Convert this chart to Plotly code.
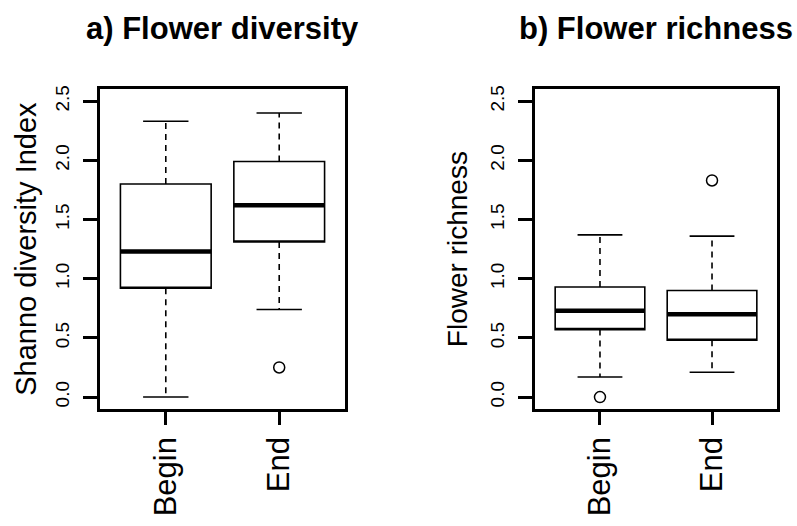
import plotly.graph_objects as go

# Group labels
groups = ["Begin", "End"]
group_pos = [1, 2]

# Five-number summaries per group: a) Shannon diversity
div_lower = [0.00, 0.74]
div_q1 = [0.92, 1.31]
div_median = [1.23, 1.62]
div_q3 = [1.80, 1.99]
div_upper = [2.33, 2.40]
div_outliers = [[], [0.25]]

# b) Flower richness
rich_lower = [0.17, 0.21]
rich_q1 = [0.57, 0.48]
rich_median = [0.73, 0.70]
rich_q3 = [0.93, 0.90]
rich_upper = [1.37, 1.36]
rich_outliers = [[0.00], [1.83]]

y_ticks = [0.0, 0.5, 1.0, 1.5, 2.0, 2.5]

FONT = "Liberation Sans, Arial, sans-serif"
BOX_W = 0.8
CAP_W = 0.4

fig = go.Figure()


def add_panel(fig, xa, ya, lower, q1, med, q3, upper, outliers):
    # box bodies
    fig.add_trace(go.Box(
        x=group_pos, q1=q1, median=q1, q3=q3, lowerfence=q1, upperfence=q3,
        width=BOX_W, fillcolor="white", line=dict(color="black", width=1.6),
        whiskerwidth=0, xaxis=xa, yaxis=ya, showlegend=False, hoverinfo="skip",
    ))
    for i, xp in enumerate(group_pos):
        # dashed whiskers
        fig.add_trace(go.Scatter(
            x=[xp, xp, None, xp, xp], y=[q3[i], upper[i], None, q1[i], lower[i]],
            mode="lines", line=dict(color="black", width=1.6, dash="6px,5px"),
            xaxis=xa, yaxis=ya, showlegend=False, hoverinfo="skip",
        ))
        # whisker caps
        fig.add_trace(go.Scatter(
            x=[xp - CAP_W / 2, xp + CAP_W / 2, None, xp - CAP_W / 2, xp + CAP_W / 2],
            y=[upper[i], upper[i], None, lower[i], lower[i]],
            mode="lines", line=dict(color="black", width=1.6),
            xaxis=xa, yaxis=ya, showlegend=False, hoverinfo="skip",
        ))
        # thick median
        fig.add_trace(go.Scatter(
            x=[xp - BOX_W / 2, xp + BOX_W / 2], y=[med[i], med[i]],
            mode="lines", line=dict(color="black", width=4.5),
            xaxis=xa, yaxis=ya, showlegend=False, hoverinfo="skip",
        ))
        # outliers
        if outliers[i]:
            fig.add_trace(go.Scatter(
                x=[xp] * len(outliers[i]), y=outliers[i], mode="markers",
                marker=dict(symbol="circle-open", size=11, color="black",
                            line=dict(width=1.5, color="black")),
                xaxis=xa, yaxis=ya, showlegend=False, hoverinfo="skip",
            ))


add_panel(fig, "x", "y", div_lower, div_q1, div_median, div_q3, div_upper, div_outliers)
add_panel(fig, "x2", "y2", rich_lower, rich_q1, rich_median, rich_q3, rich_upper, rich_outliers)

W, H = 797, 526
y_dom = [(H - 408) / H, (H - 86) / H]

xaxis_common = dict(
    range=[0.42, 2.58], tickvals=group_pos, ticktext=groups, tickangle=-90,
    ticks="outside", ticklen=13, tickwidth=2.5, tickcolor="black",
    showline=True, mirror=True, linewidth=2.5, linecolor="black",
    showgrid=False, zeroline=False,
    tickfont=dict(family=FONT, size=31, color="black"),
)
yaxis_common = dict(
    range=[-0.1, 2.6], tickvals=y_ticks, ticktext=[f"{v:.1f}" for v in y_ticks],
    tickangle=-90, ticks="outside", ticklen=14, tickwidth=2.5, tickcolor="black",
    showline=True, mirror=True, linewidth=2.5, linecolor="black",
    showgrid=False, zeroline=False, domain=y_dom, ticklabelstandoff=7,
    tickfont=dict(family=FONT, size=19, color="black"),
)

fig.update_layout(
    width=W, height=H, margin=dict(l=0, r=0, t=0, b=0),
    paper_bgcolor="white", plot_bgcolor="white",
    xaxis=dict(xaxis_common, domain=[100 / W, 345 / W], anchor="y"),
    xaxis2=dict(xaxis_common, domain=[535 / W, 777 / W], anchor="y2"),
    yaxis=dict(yaxis_common, anchor="x",
               title=dict(text="Shanno diversity Index", standoff=7,
                          font=dict(family=FONT, size=29, color="black"))),
    yaxis2=dict(yaxis_common, anchor="x2",
                title=dict(text="Flower richness", standoff=11,
                           font=dict(family=FONT, size=28, color="black"))),
    annotations=[
        dict(text="<b>a) Flower diversity</b>", x=(100 + 345) / 2 / W, y=1 - 25 / H,
             xref="paper", yref="paper", showarrow=False, xanchor="center", yanchor="middle",
             font=dict(family=FONT, size=31, color="black")),
        dict(text="<b>b) Flower richness</b>", x=(535 + 777) / 2 / W, y=1 - 25 / H,
             xref="paper", yref="paper", showarrow=False, xanchor="center", yanchor="middle",
             font=dict(family=FONT, size=31, color="black")),
    ],
)

fig.write_html("out.html")
